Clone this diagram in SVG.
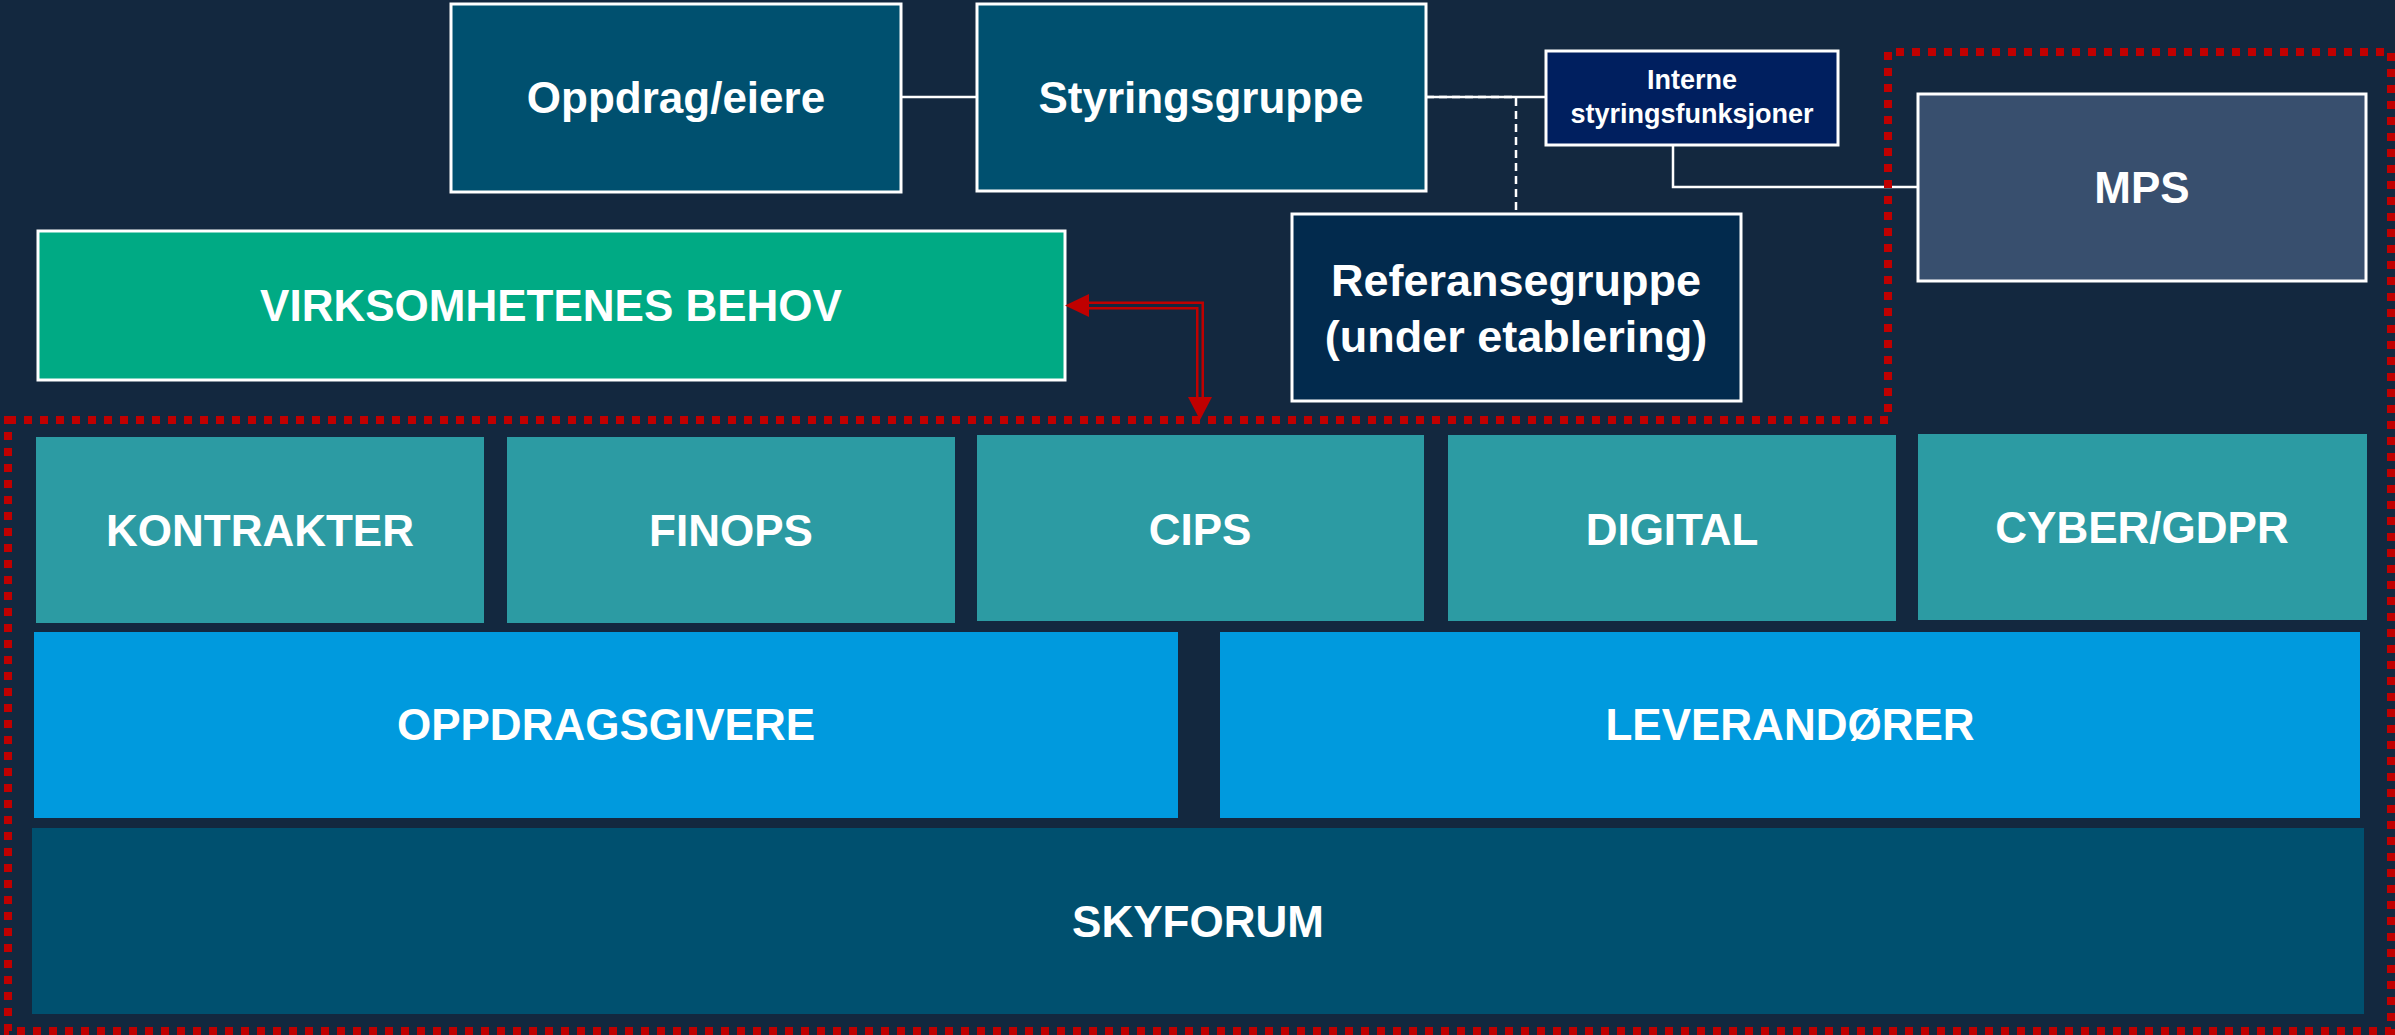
<svg xmlns="http://www.w3.org/2000/svg" width="2395" height="1035" viewBox="0 0 2395 1035">
<defs>
<style>
.lbl{font-family:"Liberation Sans",Arial,sans-serif;font-weight:bold;fill:#ffffff;text-anchor:middle}
.f44{font-size:44px}
.f45{font-size:45px}
.f27{font-size:27px}
.bx{stroke:#ffffff;stroke-width:3}
.wire{fill:none;stroke:#ffffff;stroke-width:2.5}
.dash{fill:none;stroke:#ffffff;stroke-width:2.5;stroke-dasharray:8 5}
</style>
</defs>
<rect x="0" y="0" width="2395" height="1035" fill="#13283F"/>

<g id="connectors">
  <path class="wire" d="M901,97 H977"/>
  <path class="dash" d="M1426,97 H1516 V213"/>
  <path class="wire" d="M1426,97 H1546"/>
  <path class="wire" d="M1673,145 V187 H1918"/>
</g>

<g id="oppdrag">
  <rect class="bx" x="451" y="4" width="450" height="188" fill="#00506F"/>
  <text class="lbl f44" x="676" y="113">Oppdrag/eiere</text>
</g>
<g id="styringsgruppe">
  <rect class="bx" x="977" y="4" width="449" height="187" fill="#00506F"/>
  <text class="lbl f44" x="1201" y="113">Styringsgruppe</text>
</g>
<g id="interne">
  <rect class="bx" x="1546" y="51" width="292" height="94" fill="#001F5F"/>
  <text class="lbl f27" x="1692" y="89">Interne</text>
  <text class="lbl f27" x="1692" y="123">styringsfunksjoner</text>
</g>
<g id="referansegruppe">
  <rect class="bx" x="1292" y="214" width="449" height="187" fill="#022A4D"/>
  <text class="lbl f45" x="1516" y="296">Referansegruppe</text>
  <text class="lbl f45" x="1516" y="352">(under etablering)</text>
</g>
<g id="mps">
  <rect class="bx" x="1918" y="94" width="448" height="187" fill="#384F6E"/>
  <text class="lbl f44" x="2142" y="203">MPS</text>
</g>
<g id="virksomhetenes">
  <rect class="bx" x="38" y="231" width="1027" height="149" fill="#00AA84"/>
  <text class="lbl f44" x="551" y="321">VIRKSOMHETENES BEHOV</text>
</g>

<g id="kontrakter">
  <rect x="36" y="437" width="448" height="186" fill="#2C9BA3"/>
  <text class="lbl f44" x="260" y="546">KONTRAKTER</text>
</g>
<g id="finops">
  <rect x="507" y="437" width="448" height="186" fill="#2C9BA3"/>
  <text class="lbl f44" x="731" y="546">FINOPS</text>
</g>
<g id="cips">
  <rect x="977" y="435" width="447" height="186" fill="#2C9BA3"/>
  <text class="lbl f44" x="1200" y="545">CIPS</text>
</g>
<g id="digital">
  <rect x="1448" y="435" width="448" height="186" fill="#2C9BA3"/>
  <text class="lbl f44" x="1672" y="545">DIGITAL</text>
</g>
<g id="cyber">
  <rect x="1918" y="434" width="449" height="186" fill="#2C9BA3"/>
  <text class="lbl f44" x="2142" y="543">CYBER/GDPR</text>
</g>
<g id="oppdragsgivere">
  <rect x="34" y="632" width="1144" height="186" fill="#009ADE"/>
  <text class="lbl f44" x="606" y="740">OPPDRAGSGIVERE</text>
</g>
<g id="leverandorer">
  <rect x="1220" y="632" width="1140" height="186" fill="#009ADE"/>
  <text class="lbl f44" x="1790" y="740">LEVERANDØRER</text>
</g>
<g id="skyforum">
  <rect x="32" y="828" width="2332" height="186" fill="#00506F"/>
  <text class="lbl f44" x="1198" y="937">SKYFORUM</text>
</g>

<g id="region">
  <path d="M8,420 H1888 V52 H2391 V1031 H8 Z" fill="none" stroke="#C00000" stroke-width="8" stroke-dasharray="8 8"/>
</g>

<g id="red-arrow">
  <path d="M1088,305.5 H1200 V397" fill="none" stroke="#C00000" stroke-width="8"/>
  <path d="M1088,305.5 H1200 V397" fill="none" stroke="#13283F" stroke-width="3"/>
  <polygon points="1065,305.5 1089,294 1089,317" fill="#C00000"/>
  <polygon points="1200,420 1188,397 1212,397" fill="#C00000"/>
</g>
</svg>
